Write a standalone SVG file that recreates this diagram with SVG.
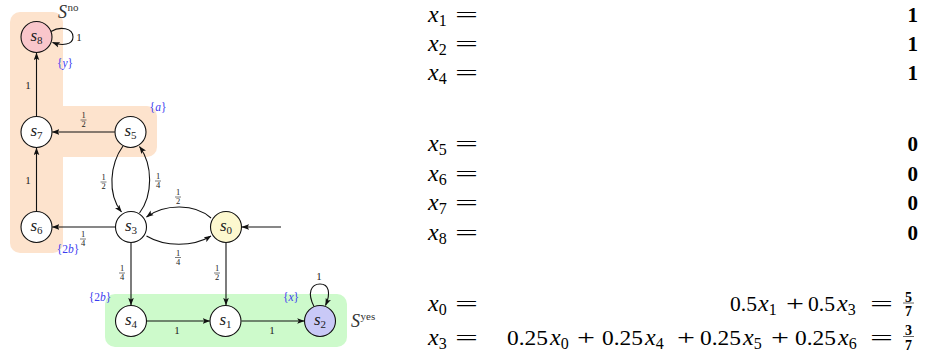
<svg xmlns="http://www.w3.org/2000/svg" xmlns:xlink="http://www.w3.org/1999/xlink" width="925" height="363" viewBox="0 0 925 363">
<style>
.reg{stroke:none}
.node{stroke:#111;stroke-width:1.1}
.edge{fill:none;stroke:#111;stroke-width:1.1;marker-end:url(#ar)}
text{font-family:'Liberation Serif','Times New Roman',serif}
.lbl{font-style:italic;font-size:17px;fill:#222;text-anchor:middle}
.ns{font-style:normal;font-size:11px}
.el{font-size:11px;fill:#222;text-anchor:middle}
.fr{font-size:8.5px;fill:#222;text-anchor:middle}
.ap{font-size:11.5px;fill:#3c3cf0;text-anchor:middle}
.it{font-style:italic}
.set{font-style:italic;font-size:18px;fill:#333}
.sup{font-style:normal;font-size:11px}
.eq{font-size:22px;fill:#000}
.xv{font-size:24px;font-style:italic}
.sb{font-size:16px;font-style:normal}
.bv{font-size:21px;font-weight:bold;fill:#000;text-anchor:end}
.bf{font-size:14px;font-weight:bold;fill:#000;text-anchor:middle}
</style>
<defs>
<marker id="ar" viewBox="0 0 8 6" refX="7.6" refY="3" markerWidth="7.5" markerHeight="6" markerUnits="userSpaceOnUse" orient="auto">
<path d="M0,0 L8,3 L0,6 L1.8,3 z" fill="#111"/>
</marker>
<g id="half"><text class="fr" x="0" y="-1.6">1</text><line x1="-3" y1="0" x2="3" y2="0" stroke="#222" stroke-width="0.6"/><text class="fr" x="0" y="7.4">2</text></g>
<g id="quarter"><text class="fr" x="0" y="-1.6">1</text><line x1="-3" y1="0" x2="3" y2="0" stroke="#222" stroke-width="0.6"/><text class="fr" x="0" y="7.4">4</text></g>
</defs>

<g id="regions">
<g id="Sno" fill="#fde3cd">
<rect class="reg" x="10" y="12" width="53" height="241" rx="10"/>
<rect class="reg" x="10" y="106" width="147" height="51" rx="10"/>
<text class="set" x="58" y="18">S<tspan class="sup" dx="0.5" dy="-7">no</tspan></text>
</g>
<g id="Syes">
<rect class="reg" x="105" y="294" width="242" height="53" rx="10" fill="#cdfacb"/>
<text class="set" x="351" y="327">S<tspan class="sup" dx="0.5" dy="-7">yes</tspan></text>
</g>
</g>

<g id="connectors">
<line class="edge" x1="36.5" y1="116" x2="36.5" y2="53"/>
<path class="edge" d="M51,31.5 C60,26 73,28 73,37 C73,45 62,46 52.5,42.5"/>
<line class="edge" x1="114.8" y1="132" x2="52.3" y2="132"/>
<line class="edge" x1="36.5" y1="211" x2="36.5" y2="148"/>
<path class="edge" d="M123,146 C110,164 107,194 121.5,212"/>
<path class="edge" d="M139.5,213 C153,195 153,165 139.5,146.5"/>
<path class="edge" d="M211,218 C195,203.5 165,203.5 146.5,217"/>
<path class="edge" d="M146.5,236 C165,247 193,247 211,236"/>
<line class="edge" x1="115" y1="227" x2="52.3" y2="227"/>
<line class="edge" x1="131" y1="243" x2="131" y2="305"/>
<line class="edge" x1="226" y1="243" x2="226" y2="305"/>
<line class="edge" x1="147" y1="321" x2="209.8" y2="321"/>
<line class="edge" x1="241.5" y1="321" x2="304.3" y2="321"/>
<path class="edge" d="M314,306.5 C307,293 311,284 320,284 C329,284 331,293 325.5,305.5"/>
<line class="edge" x1="281" y1="227" x2="242" y2="227"/>
<text class="el" x="79" y="41">1</text>
<text class="el" x="28" y="89">1</text>
<text class="el" x="28" y="184">1</text>
<text class="el" x="177" y="334">1</text>
<text class="el" x="272" y="334">1</text>
<text class="el" x="319" y="280">1</text>
<use xlink:href="#half" x="83.5" y="120"/>
<use xlink:href="#half" x="103.5" y="182"/>
<use xlink:href="#quarter" x="158" y="181"/>
<use xlink:href="#half" x="178" y="197"/>
<use xlink:href="#quarter" x="178" y="257.5"/>
<use xlink:href="#quarter" x="83" y="239"/>
<use xlink:href="#quarter" x="122" y="273"/>
<use xlink:href="#half" x="217" y="273"/>
</g>

<g id="s8"><circle class="node" cx="36.5" cy="37" r="15.5" fill="#f9c6cb"/><text class="lbl" x="36.5" y="41">s<tspan class="ns" dy="2.5">8</tspan></text><text class="ap" x="65" y="67">{<tspan class="it">y</tspan>}</text></g>
<g id="s7"><circle class="node" cx="36.5" cy="132" r="15.5" fill="#fff"/><text class="lbl" x="36.5" y="136">s<tspan class="ns" dy="2.5">7</tspan></text></g>
<g id="s5"><circle class="node" cx="130.5" cy="132" r="15.5" fill="#fff"/><text class="lbl" x="130.5" y="136">s<tspan class="ns" dy="2.5">5</tspan></text><text class="ap" x="158" y="111">{<tspan class="it">a</tspan>}</text></g>
<g id="s6"><circle class="node" cx="36.5" cy="227" r="15.5" fill="#fff"/><text class="lbl" x="36.5" y="231">s<tspan class="ns" dy="2.5">6</tspan></text><text class="ap" x="68" y="253">{2<tspan class="it">b</tspan>}</text></g>
<g id="s3"><circle class="node" cx="131" cy="227" r="15.5" fill="#fff"/><text class="lbl" x="131" y="231">s<tspan class="ns" dy="2.5">3</tspan></text></g>
<g id="s0"><circle class="node" cx="226" cy="227" r="15.5" fill="#fdf8cf"/><text class="lbl" x="226" y="231">s<tspan class="ns" dy="2.5">0</tspan></text></g>
<g id="s4"><circle class="node" cx="131" cy="321" r="15.5" fill="#fff"/><text class="lbl" x="131" y="325">s<tspan class="ns" dy="2.5">4</tspan></text><text class="ap" x="100" y="301">{2<tspan class="it">b</tspan>}</text></g>
<g id="s1"><circle class="node" cx="225.5" cy="321" r="15.5" fill="#fff"/><text class="lbl" x="225.5" y="325">s<tspan class="ns" dy="2.5">1</tspan></text></g>
<g id="s2"><circle class="node" cx="320" cy="321" r="15.5" fill="#c9c9f7"/><text class="lbl" x="320" y="325">s<tspan class="ns" dy="2.5">2</tspan></text><text class="ap" x="291" y="301">{<tspan class="it">x</tspan>}</text></g>

<g id="equations">
<text class="eq" x="428" y="22"><tspan class="xv">x</tspan><tspan class="sb" dy="4">1</tspan></text>
<text class="eq" x="455" y="22" textLength="23" lengthAdjust="spacingAndGlyphs">=</text>
<text class="bv" x="918" y="22">1</text>
<text class="eq" x="428" y="51"><tspan class="xv">x</tspan><tspan class="sb" dy="4">2</tspan></text>
<text class="eq" x="455" y="51" textLength="23" lengthAdjust="spacingAndGlyphs">=</text>
<text class="bv" x="918" y="51">1</text>
<text class="eq" x="428" y="80"><tspan class="xv">x</tspan><tspan class="sb" dy="4">4</tspan></text>
<text class="eq" x="455" y="80" textLength="23" lengthAdjust="spacingAndGlyphs">=</text>
<text class="bv" x="918" y="80">1</text>

<text class="eq" x="428" y="151"><tspan class="xv">x</tspan><tspan class="sb" dy="4">5</tspan></text>
<text class="eq" x="455" y="151" textLength="23" lengthAdjust="spacingAndGlyphs">=</text>
<text class="bv" x="918" y="151">0</text>
<text class="eq" x="428" y="181"><tspan class="xv">x</tspan><tspan class="sb" dy="4">6</tspan></text>
<text class="eq" x="455" y="181" textLength="23" lengthAdjust="spacingAndGlyphs">=</text>
<text class="bv" x="918" y="181">0</text>
<text class="eq" x="428" y="210"><tspan class="xv">x</tspan><tspan class="sb" dy="4">7</tspan></text>
<text class="eq" x="455" y="210" textLength="23" lengthAdjust="spacingAndGlyphs">=</text>
<text class="bv" x="918" y="210">0</text>
<text class="eq" x="428" y="240"><tspan class="xv">x</tspan><tspan class="sb" dy="4">8</tspan></text>
<text class="eq" x="455" y="240" textLength="23" lengthAdjust="spacingAndGlyphs">=</text>
<text class="bv" x="918" y="240">0</text>

<text class="eq" x="428" y="311"><tspan class="xv">x</tspan><tspan class="sb" dy="4">0</tspan></text>
<text class="eq" x="455" y="311" textLength="23" lengthAdjust="spacingAndGlyphs">=</text>
<text class="eq" x="730" y="311" textLength="27" lengthAdjust="spacingAndGlyphs">0.5</text>
<text class="eq" x="758" y="311"><tspan class="xv">x</tspan><tspan class="sb" dy="4">1</tspan></text>
<text class="eq" x="786" y="311" textLength="18" lengthAdjust="spacingAndGlyphs">+</text>
<text class="eq" x="808" y="311" textLength="27" lengthAdjust="spacingAndGlyphs">0.5</text>
<text class="eq" x="837" y="311"><tspan class="xv">x</tspan><tspan class="sb" dy="4">3</tspan></text>
<text class="eq" x="870" y="311" textLength="23" lengthAdjust="spacingAndGlyphs">=</text>
<text class="bf" x="908.5" y="301.5">5</text>
<line x1="903" y1="303" x2="914" y2="303" stroke="#000" stroke-width="0.6"/>
<text class="bf" x="908.5" y="316">7</text>

<text class="eq" x="428" y="345"><tspan class="xv">x</tspan><tspan class="sb" dy="4">3</tspan></text>
<text class="eq" x="455" y="345" textLength="23" lengthAdjust="spacingAndGlyphs">=</text>
<text class="eq" x="507" y="345" textLength="41" lengthAdjust="spacingAndGlyphs">0.25</text>
<text class="eq" x="550" y="345"><tspan class="xv">x</tspan><tspan class="sb" dy="4">0</tspan></text>
<text class="eq" x="577" y="345" textLength="18" lengthAdjust="spacingAndGlyphs">+</text>
<text class="eq" x="602" y="345" textLength="41" lengthAdjust="spacingAndGlyphs">0.25</text>
<text class="eq" x="645" y="345"><tspan class="xv">x</tspan><tspan class="sb" dy="4">4</tspan></text>
<text class="eq" x="677" y="345" textLength="18" lengthAdjust="spacingAndGlyphs">+</text>
<text class="eq" x="700" y="345" textLength="41" lengthAdjust="spacingAndGlyphs">0.25</text>
<text class="eq" x="743" y="345"><tspan class="xv">x</tspan><tspan class="sb" dy="4">5</tspan></text>
<text class="eq" x="771" y="345" textLength="18" lengthAdjust="spacingAndGlyphs">+</text>
<text class="eq" x="795" y="345" textLength="41" lengthAdjust="spacingAndGlyphs">0.25</text>
<text class="eq" x="838" y="345"><tspan class="xv">x</tspan><tspan class="sb" dy="4">6</tspan></text>
<text class="eq" x="870" y="345" textLength="23" lengthAdjust="spacingAndGlyphs">=</text>
<text class="bf" x="908.5" y="335">3</text>
<line x1="903" y1="336.5" x2="914" y2="336.5" stroke="#000" stroke-width="0.6"/>
<text class="bf" x="908.5" y="349.5">7</text>
</g>
</svg>
